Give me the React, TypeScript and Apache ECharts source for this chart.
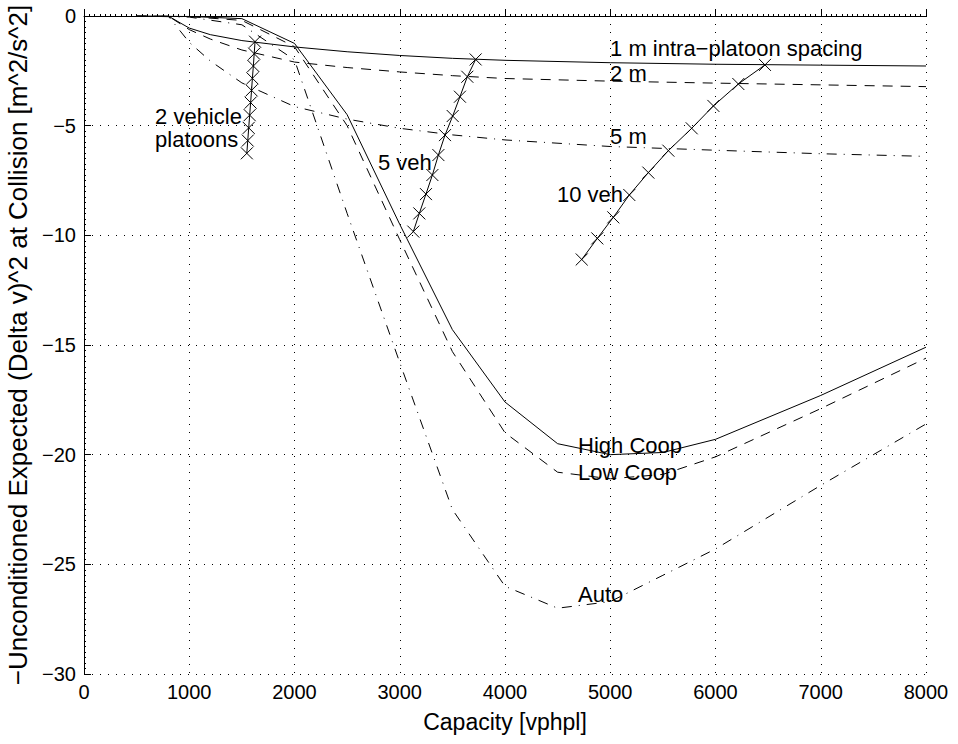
import React, { useEffect, useRef } from "react";
import * as echarts from "echarts";

// Main operating-mode curves
const capacity = [500, 1000, 1500, 2000, 2500, 3000, 3500, 4000, 4500, 5000, 5500, 6000, 7000, 8000];
const highCoop = [0, -0.02, -0.12, -1.25, -4.5, -9.5, -14.3, -17.6, -19.5, -20.0, -19.9, -19.3, -17.3, -15.1];
const lowCoop = [0, -0.03, -0.2, -1.4, -5.0, -10.2, -15.3, -19.0, -20.8, -21.1, -20.9, -20.1, -17.9, -15.6];
const autoMode = [0, -0.05, -0.4, -2.0, -9.0, -15.8, -22.5, -26.0, -27.0, -26.7, -25.5, -24.3, -21.4, -18.6];

// Intra-platoon spacing curves
const platoonCapacity = [500, 800, 1000, 1200, 1500, 2000, 2500, 3000, 3500, 4000, 5000, 6000, 7000, 8000];
const spacing1m = [0, 0, -0.55, -0.85, -1.12, -1.41, -1.63, -1.8, -1.93, -2.02, -2.13, -2.2, -2.24, -2.28];
const spacing2m = [0, 0, -0.62, -1.05, -1.55, -2.1, -2.35, -2.55, -2.72, -2.85, -2.97, -3.06, -3.14, -3.22];
const spacing5m = [0, 0, -1.2, -2.05, -3.05, -4.13, -4.7, -5.12, -5.42, -5.65, -5.95, -6.12, -6.28, -6.4];

// Platoon-size lines (1..10 m spacing)
const twoVehX = [1625, 1617, 1609, 1600, 1592, 1583, 1574, 1565, 1556, 1547];
const twoVehY = [-1.17, -1.72, -2.28, -2.84, -3.39, -3.95, -4.52, -5.1, -5.68, -6.26];
const fiveVehX = [3721, 3642, 3572, 3503, 3430, 3367, 3310, 3249, 3186, 3129];
const fiveVehY = [-1.98, -2.77, -3.68, -4.56, -5.43, -6.34, -7.25, -8.12, -9.0, -9.83];
const tenVehX = [6470, 6217, 5980, 5774, 5552, 5362, 5181, 5029, 4877, 4729];
const tenVehY = [-2.23, -3.1, -4.1, -5.12, -6.14, -7.14, -8.16, -9.18, -10.14, -11.1];

const xTicks = [0, 1000, 2000, 3000, 4000, 5000, 6000, 7000, 8000];
const yTicks = [0, -5, -10, -15, -20, -25, -30];

const annotations = [
  { text: "1 m intra\u2212platoon spacing", x: 4998, y: -1.5 },
  { text: "2 m", x: 4998, y: -2.6 },
  { text: "5 m", x: 4998, y: -5.5 },
  { text: "10 veh", x: 4494, y: -8.16 },
  { text: "5 veh", x: 2793, y: -6.66 },
  { text: "2 vehicle\nplatoons", x: 675, y: -5.1 },
  { text: "High Coop", x: 4694, y: -19.56 },
  { text: "Low Coop", x: 4694, y: -20.8 },
  { text: "Auto", x: 4694, y: -26.36 },
];

const FONT = '"Liberation Sans", Arial, Helvetica, sans-serif';
const CROSS = "path://M0,0L10,10M10,0L0,10";

const zip = (xs: number[], ys: number[]) => xs.map((x, i) => [x, ys[i]]);

export default function App() {
  const ref = useRef<HTMLDivElement>(null);
  useEffect(() => {
    if (!ref.current) return;
    const chart = echarts.init(ref.current, null, { renderer: "svg" });
    const curve = (name: string, xs: number[], ys: number[], type: any) => ({
      name,
      type: "line",
      data: zip(xs, ys),
      showSymbol: false,
      symbol: "none",
      lineStyle: { color: "#000", width: 1, type },
      silent: true,
    });
    const marked = (name: string, xs: number[], ys: number[]) => ({
      name,
      type: "line",
      data: zip(xs, ys),
      symbol: CROSS,
      symbolSize: 12,
      showAllSymbol: true,
      itemStyle: { color: "#000", borderColor: "#000", borderWidth: 1 },
      lineStyle: { color: "#000", width: 1 },
      silent: true,
    });
    const minus = (v: number) => String(v).replace("-", "\u2212");
    chart.setOption({
      animation: false,
      backgroundColor: "#fff",
      grid: { left: 84, right: 32, top: 16, bottom: 70, containLabel: false, outerBoundsMode: "none" },
      xAxis: {
        type: "value",
        min: xTicks[0],
        max: xTicks[xTicks.length - 1],
        interval: 1000,
        name: "Capacity [vphpl]",
        nameLocation: "middle",
        nameGap: 36,
        nameTextStyle: { color: "#000", fontSize: 23, fontFamily: FONT },
        axisLine: { lineStyle: { color: "#000", width: 1 } },
        axisTick: { inside: true, length: 7, lineStyle: { color: "#000" } },
        minorTick: { show: true, splitNumber: 20, length: 2, lineStyle: { color: "#000" } },
        axisLabel: { color: "#000", fontSize: 20, fontFamily: FONT, margin: 8, formatter: (v: number) => String(v) },
        splitLine: { show: true, lineStyle: { color: "#000", type: [1, 7], width: 1 } },
      },
      yAxis: {
        type: "value",
        min: yTicks[yTicks.length - 1],
        max: yTicks[0],
        interval: 5,
        name: "\u2212Unconditioned Expected (Delta v)^2 at Collision [m^2/s^2]",
        nameLocation: "middle",
        nameGap: 50,
        nameRotate: 90,
        nameTextStyle: { color: "#000", fontSize: 26, fontFamily: FONT },
        axisLine: { lineStyle: { color: "#000", width: 1 } },
        axisTick: { inside: true, length: 7, lineStyle: { color: "#000" } },
        minorTick: { show: true, splitNumber: 20, length: 2, lineStyle: { color: "#000" } },
        axisLabel: { color: "#000", fontSize: 20, fontFamily: FONT, margin: 8, formatter: minus },
        splitLine: { show: true, lineStyle: { color: "#000", type: [1, 7], width: 1 } },
      },
      series: [
        curve("High Coop", capacity, highCoop, "solid"),
        curve("Low Coop", capacity, lowCoop, [10, 8]),
        curve("Auto", capacity, autoMode, [10, 7, 1, 7]),
        curve("1 m", platoonCapacity, spacing1m, "solid"),
        curve("2 m", platoonCapacity, spacing2m, [10, 8]),
        curve("5 m", platoonCapacity, spacing5m, [10, 7, 1, 7]),
        marked("2 veh", twoVehX, twoVehY),
        marked("5 veh", fiveVehX, fiveVehY),
        marked("10 veh", tenVehX, tenVehY),
      ],
    });
    const graphic = annotations.map((a) => {
      const p = chart.convertToPixel({ gridIndex: 0 }, [a.x, a.y]) as number[];
      return {
        type: "text",
        x: p[0],
        y: p[1],
        silent: true,
        style: {
          text: a.text,
          fill: "#000",
          font: `22px ${FONT}`,
          lineHeight: 23,
          align: "left",
          verticalAlign: "middle",
        },
      };
    });
    chart.setOption({ graphic });
    return () => chart.dispose();
  }, []);
  return (
    <div
      ref={ref}
      style={{ position: "fixed", left: 0, top: 0, width: 958, height: 744, background: "#fff" }}
    />
  );
}
